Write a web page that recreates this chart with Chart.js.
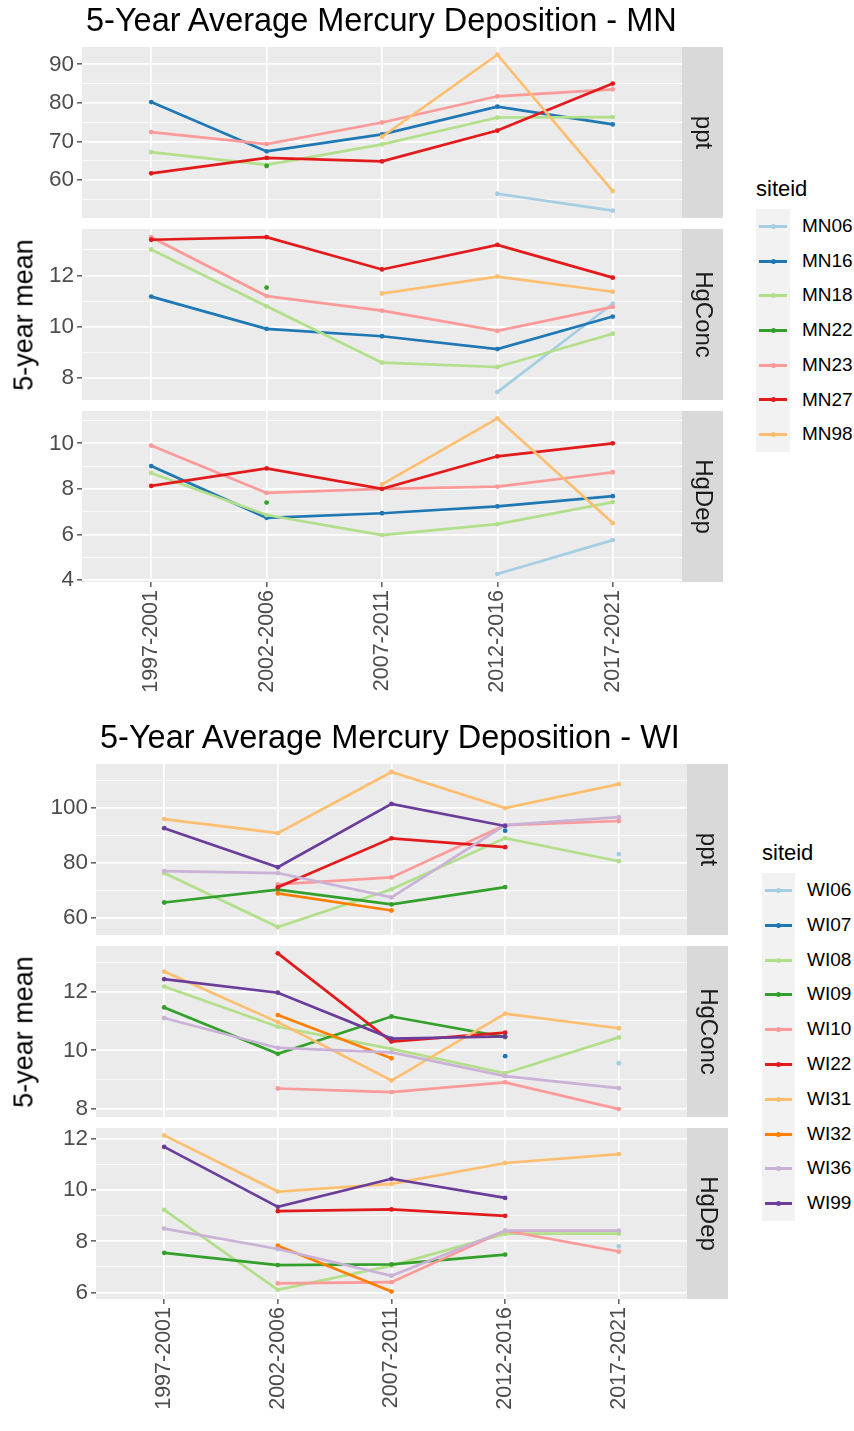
<!DOCTYPE html>
<html>
<head>
<meta charset="utf-8">
<title>5-Year Average Mercury Deposition</title>
<script src="https://cdn.jsdelivr.net/npm/chart.js@4.4.1/dist/chart.umd.min.js"></script>
<style>
    body { margin: 0; background: #fff; }
    #page { position: relative; width: 854px; height: 1431px; overflow: hidden; font-family: 'Liberation Sans', Arial, sans-serif; }
    #page canvas { position: absolute; }
    .titulo { position: absolute; font-size: 32.5px; line-height: 32.5px; color: #000; white-space: nowrap; }
    .ytitulo { position: absolute; font-size: 27px; line-height: 27px; color: #000; white-space: nowrap; transform: translate(-50%, -50%) rotate(-90deg); }
    .leyenda-titulo { position: absolute; font-size: 22px; line-height: 22px; color: #000; white-space: nowrap; }
    .leyenda-col { position: absolute; background: #F2F2F2; }
    .leyenda-texto { position: absolute; font-size: 19px; color: #000; white-space: nowrap; }
    .linea { position: absolute; height: 3px; }
    .punto { position: absolute; width: 5px; height: 5px; border-radius: 50%; }
</style>
</head>
<body>
<div id="page"></div>
<script>
// Datos
const categorias = ['1997-2001', '2002-2006', '2007-2011', '2012-2016', '2017-2021'];
const paleta = ['#A6CEE3', '#1F78B4', '#B2DF8A', '#33A02C', '#FB9A99', '#E31A1C', '#FDBF6F', '#FF7F00', '#CAB2D6', '#6A3D9A'];

const mnSitios = ['MN06', 'MN16', 'MN18', 'MN22', 'MN23', 'MN27', 'MN98'];
const mnPpt = [
    [null, null, null, 56.4, 52.0],
    [80.2, 67.4, 71.8, 79.0, 74.4],
    [67.2, 63.9, 69.2, 76.2, 76.3],
    [null, 63.6, null, null, null],
    [72.4, 69.3, 74.9, 81.7, 83.5],
    [61.7, 65.7, 64.8, 72.8, 85.0],
    [null, null, 71.2, 92.5, 57.1]
];
const mnHgConc = [
    [null, null, null, 7.45, 10.9],
    [11.18, 9.92, 9.63, 9.13, 10.4],
    [13.02, 10.8, 8.6, 8.43, 9.73],
    [null, 11.53, null, null, null],
    [13.5, 11.2, 10.63, 9.84, 10.78],
    [13.4, 13.5, 12.24, 13.2, 11.92],
    [null, null, 11.3, 11.96, 11.37]
];
const mnHgDep = [
    [null, null, null, 4.26, 5.75],
    [9.0, 6.73, 6.93, 7.23, 7.68],
    [8.7, 6.85, 5.97, 6.45, 7.42],
    [null, 7.4, null, null, null],
    [9.9, 7.82, 8.0, 8.1, 8.73],
    [8.13, 8.9, 8.0, 9.43, 10.0],
    [null, null, 8.2, 11.1, 6.5]
];

const wiSitios = ['WI06', 'WI07', 'WI08', 'WI09', 'WI10', 'WI22', 'WI31', 'WI32', 'WI36', 'WI99'];
const wiPpt = [
    [null, null, null, null, 83.3],
    [null, null, null, 91.8, null],
    [76.4, 56.8, 70.5, 89.1, 80.7],
    [65.7, 70.4, 65.0, 71.3, null],
    [null, 72.3, 74.8, 93.8, 95.3],
    [null, 71.2, 89.0, 85.8, null],
    [96.0, 90.9, 113.1, 100.0, 108.7],
    [null, 69.0, 62.8, null, null],
    [77.1, 76.4, 67.6, 93.8, 96.7],
    [92.7, 78.5, 101.5, 93.5, null]
];
const wiHgConc = [
    [null, null, null, null, 9.56],
    [null, null, null, 9.8, null],
    [12.17, 10.8, 10.05, 9.22, 10.44],
    [11.46, 9.88, 11.15, 10.45, null],
    [null, 8.7, 8.58, 8.91, 8.0],
    [null, 13.3, 10.3, 10.6, null],
    [12.68, 10.96, 8.97, 11.25, 10.75],
    [null, 11.2, 9.73, null, null],
    [11.1, 10.08, 9.93, 9.12, 8.71],
    [12.42, 11.96, 10.4, 10.47, null]
];
const wiHgDep = [
    [null, null, null, null, 7.8],
    [null, null, null, null, null],
    [9.23, 6.1, 7.05, 8.3, 8.3],
    [7.55, 7.07, 7.1, 7.48, null],
    [null, 6.35, 6.4, 8.42, 7.6],
    [null, 9.18, 9.25, 9.0, null],
    [12.15, 9.95, 10.25, 11.07, 11.42],
    [null, 7.83, 6.03, null, null],
    [8.5, 7.7, 6.65, 8.42, 8.42],
    [11.7, 9.35, 10.45, 9.7, null]
];

// Marcas de los ejes (mayores y menores)
const mnPptTicks = [60, 70, 80, 90];
const mnPptMenores = [55, 65, 75, 85];
const mnConcTicks = [8, 10, 12];
const mnConcMenores = [7, 9, 11, 13];
const mnDepTicks = [4, 6, 8, 10];
const mnDepMenores = [5, 7, 9, 11];
const wiPptTicks = [60, 80, 100];
const wiPptMenores = [70, 90, 110];
const wiConcTicks = [8, 10, 12];
const wiConcMenores = [9, 11, 13];
const wiDepTicks = [6, 8, 10, 12];
const wiDepMenores = [7, 9, 11];

const FUENTE = "'Liberation Sans', Arial, sans-serif";

// Figuras: posiciones en la pagina
const figuras = [
    {
        titulo: '5-Year Average Mercury Deposition - MN', tituloX: 86, tituloBase: 31,
        sitios: mnSitios, plotLeft: 82, plotRight: 682, stripRight: 723, xLabelH: 110,
        paneles: [
            { nombre: 'ppt', top: 47, bottom: 218, valores: mnPpt, min: 50.1, max: 94.5, mayores: mnPptTicks, menores: mnPptMenores },
            { nombre: 'HgConc', top: 229, bottom: 400, valores: mnHgConc, min: 7.14, max: 13.82, mayores: mnConcTicks, menores: mnConcMenores },
            { nombre: 'HgDep', top: 411, bottom: 582, valores: mnHgDep, min: 3.91, max: 11.42, mayores: mnDepTicks, menores: mnDepMenores }
        ],
        leyenda: { left: 756, keyW: 34, textoX: 802, tituloY: 189, top: 209, filaH: 34.7 }
    },
    {
        titulo: '5-Year Average Mercury Deposition - WI', tituloX: 100, tituloBase: 748,
        sitios: wiSitios, plotLeft: 96, plotRight: 687, stripRight: 728, xLabelH: 112,
        paneles: [
            { nombre: 'ppt', top: 764, bottom: 935, valores: wiPpt, min: 53.9, max: 116.0, mayores: wiPptTicks, menores: wiPptMenores },
            { nombre: 'HgConc', top: 946, bottom: 1117, valores: wiHgConc, min: 7.73, max: 13.55, mayores: wiConcTicks, menores: wiConcMenores },
            { nombre: 'HgDep', top: 1128, bottom: 1299, valores: wiHgDep, min: 5.74, max: 12.44, mayores: wiDepTicks, menores: wiDepMenores }
        ],
        leyenda: { left: 762, keyW: 33, textoX: 807, tituloY: 853, top: 873, filaH: 34.8 }
    }
];

// Fondo gris del panel y tira lateral con el nombre
const decoPanel = {
    id: 'decoPanel',
    beforeDraw(chart, args, opts) {
        const a = chart.chartArea;
        const ctx = chart.ctx;
        ctx.save();
        ctx.fillStyle = '#EBEBEB';
        ctx.fillRect(a.left, a.top, a.right - a.left, a.bottom - a.top);
        ctx.fillStyle = '#D9D9D9';
        ctx.fillRect(a.right, a.top, opts.stripW, a.bottom - a.top);
        ctx.translate(a.right + opts.stripW / 2, (a.top + a.bottom) / 2);
        ctx.rotate(Math.PI / 2);
        ctx.fillStyle = '#1A1A1A';
        ctx.font = '24px ' + FUENTE;
        ctx.textAlign = 'center';
        ctx.textBaseline = 'middle';
        ctx.fillText(opts.etiqueta, 0, 0);
        ctx.restore();
    }
};

const page = document.getElementById('page');

function crearPanel(fig, p, esUltimo) {
    const pad = 14;
    const canvas = document.createElement('canvas');
    const alto = pad + (p.bottom - p.top) + (esUltimo ? fig.xLabelH : pad);
    canvas.width = fig.stripRight + 4;
    canvas.height = alto;
    canvas.style.left = '0px';
    canvas.style.top = (p.top - pad) + 'px';
    page.appendChild(canvas);

    const todos = p.mayores.concat(p.menores).sort((a, b) => a - b);
    const esMayor = v => p.mayores.includes(v);

    new Chart(canvas, {
        type: 'line',
        data: {
            datasets: fig.sitios.map((s, i) => ({
                label: s,
                data: p.valores[i].map((v, j) => ({ x: j + 1, y: v })),
                borderColor: paleta[i],
                backgroundColor: paleta[i],
                borderWidth: 2.7,
                pointRadius: 2.4,
                pointHoverRadius: 2.4,
                pointBorderWidth: 0,
                tension: 0,
                spanGaps: false,
                order: -i
            }))
        },
        options: {
            responsive: false,
            animation: false,
            devicePixelRatio: 1,
            events: [],
            layout: { padding: { top: pad, bottom: esUltimo ? 0 : pad, left: 0, right: fig.stripRight - fig.plotRight + 4 } },
            plugins: {
                legend: { display: false },
                tooltip: { enabled: false },
                decoPanel: { etiqueta: p.nombre, stripW: fig.stripRight - fig.plotRight }
            },
            scales: {
                x: {
                    type: 'linear',
                    min: 0.4,
                    max: 5.6,
                    afterBuildTicks: s => { s.ticks = categorias.map((c, i) => ({ value: i + 1 })); },
                    afterFit: s => { s.height = esUltimo ? fig.xLabelH : 0; s.paddingLeft = 0; s.paddingRight = 0; },
                    border: { display: false },
                    grid: { color: '#FFFFFF', lineWidth: 1.7, drawTicks: esUltimo, tickLength: 5, tickColor: '#333333', tickWidth: 1.2 },
                    ticks: {
                        display: esUltimo,
                        autoSkip: false,
                        minRotation: 90,
                        maxRotation: 90,
                        padding: 3,
                        color: '#4D4D4D',
                        font: { family: FUENTE, size: 21.5 },
                        callback: v => categorias[Math.round(v) - 1]
                    }
                },
                y: {
                    min: p.min,
                    max: p.max,
                    afterBuildTicks: s => { s.ticks = todos.map(v => ({ value: v })); },
                    afterFit: s => { s.width = fig.plotLeft; s.paddingTop = 0; s.paddingBottom = 0; },
                    border: { display: false },
                    grid: {
                        color: '#FFFFFF',
                        lineWidth: c => (c.tick && esMayor(c.tick.value)) ? 1.7 : 0.8,
                        tickLength: 5,
                        tickWidth: 1.2,
                        tickColor: c => (c.tick && esMayor(c.tick.value)) ? '#333333' : 'rgba(0,0,0,0)'
                    },
                    ticks: {
                        autoSkip: false,
                        padding: 3,
                        color: '#4D4D4D',
                        font: { family: FUENTE, size: 22.5 },
                        callback: v => esMayor(v) ? String(v) : ''
                    }
                }
            }
        },
        plugins: [decoPanel]
    });
}

function crearTextos(fig) {
    // Titulo (alineado por la linea base)
    const t = document.createElement('div');
    t.className = 'titulo';
    t.textContent = fig.titulo;
    t.style.left = fig.tituloX + 'px';
    t.style.top = (fig.tituloBase - 27.5) + 'px';
    page.appendChild(t);

    // Titulo del eje y
    const y = document.createElement('div');
    y.className = 'ytitulo';
    y.textContent = '5-year mean';
    y.style.left = '24px';
    y.style.top = ((fig.paneles[0].top + fig.paneles[2].bottom) / 2) + 'px';
    page.appendChild(y);

    // Leyenda
    const L = fig.leyenda;
    const lt = document.createElement('div');
    lt.className = 'leyenda-titulo';
    lt.textContent = 'siteid';
    lt.style.left = L.left + 'px';
    lt.style.top = (L.tituloY - 11) + 'px';
    page.appendChild(lt);

    const col = document.createElement('div');
    col.className = 'leyenda-col';
    col.style.left = L.left + 'px';
    col.style.top = L.top + 'px';
    col.style.width = L.keyW + 'px';
    col.style.height = (L.filaH * fig.sitios.length) + 'px';
    page.appendChild(col);

    fig.sitios.forEach((s, i) => {
        const cy = L.top + L.filaH * (i + 0.5);
        const linea = document.createElement('div');
        linea.className = 'linea';
        linea.style.background = paleta[i];
        linea.style.left = (L.left + 3) + 'px';
        linea.style.width = (L.keyW - 6) + 'px';
        linea.style.top = (cy - 1.5) + 'px';
        page.appendChild(linea);

        const punto = document.createElement('div');
        punto.className = 'punto';
        punto.style.background = paleta[i];
        punto.style.left = (L.left + L.keyW / 2 - 2.5) + 'px';
        punto.style.top = (cy - 2.5) + 'px';
        page.appendChild(punto);

        const txt = document.createElement('div');
        txt.className = 'leyenda-texto';
        txt.textContent = s;
        txt.style.left = L.textoX + 'px';
        txt.style.top = (cy - L.filaH / 2) + 'px';
        txt.style.height = L.filaH + 'px';
        txt.style.lineHeight = L.filaH + 'px';
        page.appendChild(txt);
    });
}

figuras.forEach(fig => {
    fig.paneles.forEach((p, i) => crearPanel(fig, p, i === fig.paneles.length - 1));
    crearTextos(fig);
});
</script>
</body>
</html>
